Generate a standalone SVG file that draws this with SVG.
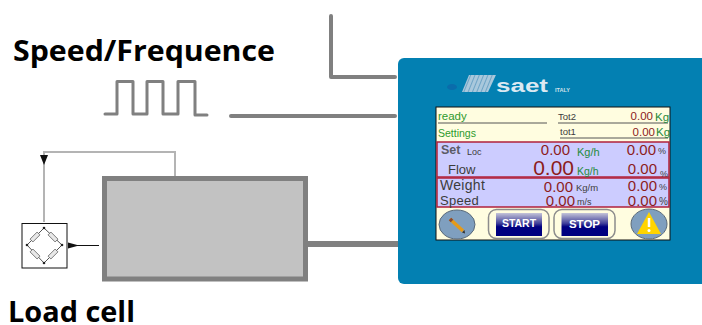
<svg xmlns="http://www.w3.org/2000/svg" width="702" height="325" viewBox="0 0 702 325">
<defs>
<linearGradient id="btn" x1="0" y1="0" x2="0" y2="1"><stop offset="0" stop-color="#c4c4d8"/><stop offset="0.45" stop-color="#40409a"/><stop offset="0.6" stop-color="#000080"/><stop offset="1" stop-color="#000080"/></linearGradient>
<pattern id="hatch" width="4" height="4" patternUnits="userSpaceOnUse" patternTransform="rotate(22)"><rect width="4" height="4" fill="#a9c8dc"/><rect width="1" height="4" fill="#6ea4c6"/></pattern>
</defs>
<style>
text{font-family:"Liberation Sans",Arial,sans-serif}
.head{font-family:"Open Sans","Noto Sans",sans-serif;font-weight:700;font-size:29px;fill:#000}
.wire{fill:none;stroke:#808080;stroke-width:4;stroke-linecap:round;stroke-linejoin:round}
.thin{fill:none;stroke:#b4b4b4;stroke-width:2}
.rule{stroke:#555;stroke-width:1}
.g{fill:#2e9a2e}
.r{fill:#8c1c1c}
.k{fill:#3c3c3c}
.u{fill:#1f8a3c}
.pill{fill:#fffde0;stroke:#8c8c8c;stroke-width:1.500}
.ico{fill:#7f9fbf;stroke:#5a6a7a;stroke-width:1}
.btxt{fill:#fff;font-weight:700;font-size:10.500px;text-anchor:middle}
</style>
<text class="head" x="13" y="61" textLength="262" lengthAdjust="spacingAndGlyphs">Speed/Frequence</text>
<text class="head" x="8" y="322" textLength="127" lengthAdjust="spacingAndGlyphs">Load cell</text>
<g id="connectors">
<path class="wire" d="M331 16V77H395"/>
<path class="wire" d="M231 116H395"/>
<path class="wire" style="stroke-width:3" d="M105 114H117V81.500H133V114H147V81.500H163V114H178V81.500H195V115H207"/>
<path d="M308 244H398" fill="none" stroke="#808080" stroke-width="6"/>
<path class="thin" d="M44 222V152H175V176"/>
<polygon points="40,155 48,155 44,165" fill="#111"/>
<path d="M68 245.500H99" stroke="#111" stroke-width="1"/>
<polygon points="68,242.500 79,245.500 68,248.500" fill="#111"/>
</g>
<g id="load-cell">
<rect x="22" y="223.500" width="45" height="44.500" fill="#fff" stroke="#111" stroke-width="1"/>
<path d="M44 228L62 245L44 263L27 245Z" fill="none" stroke="#555" stroke-width="1"/>
<g fill="#e8e8e8" stroke="#666" stroke-width="0.800">
<rect x="-5" y="-2" width="10" height="4" transform="translate(35 237) rotate(-45)"/>
<rect x="-5" y="-2" width="10" height="4" transform="translate(53 237) rotate(45)"/>
<rect x="-5" y="-2" width="10" height="4" transform="translate(35 254) rotate(45)"/>
<rect x="-5" y="-2" width="10" height="4" transform="translate(53 254) rotate(-45)"/>
</g>
<g fill="#222"><circle cx="44" cy="228" r="1.300"/><circle cx="62" cy="245" r="1.300"/><circle cx="44" cy="263" r="1.300"/><circle cx="27" cy="245" r="1.300"/></g>
</g>
<g id="scale">
<rect x="104.500" y="178.500" width="201" height="100.500" fill="#c2c2c2" stroke="#808080" stroke-width="5"/>
</g>
<g id="controller">
<rect x="398" y="58" width="330" height="226" rx="6" fill="#0380b2"/>
<polygon points="469,75 496,75 488,92 462,92" fill="url(#hatch)"/>
<ellipse cx="452" cy="87" rx="5" ry="3" fill="#0a6cab"/>
<text x="496" y="92" font-size="18" font-weight="700" fill="#dbe9f2" textLength="52" lengthAdjust="spacingAndGlyphs">saet</text>
<text x="555" y="92" font-size="6" font-weight="700" fill="#cfe0ea" textLength="15" lengthAdjust="spacingAndGlyphs">ITALY</text>
<rect x="436" y="107" width="234" height="133" fill="#fffde0" stroke="#111" stroke-width="1"/>
<path class="rule" d="M438 123H547M558 123H668M560 138H668"/>
<text class="g" x="438" y="120" font-size="11.500">ready</text>
<text class="g" x="438" y="137" font-size="10.500">Settings</text>
<text class="k" x="558" y="120" font-size="9.500">Tot2</text>
<text class="k" x="560" y="135" font-size="9.500">tot1</text>
<text class="r" x="653" y="120" font-size="11.500" text-anchor="end">0.00</text>
<text class="u" x="655" y="121" font-size="11.500">Kg</text>
<text class="r" x="655" y="136" font-size="11.500" text-anchor="end">0.00</text>
<text class="u" x="656" y="136" font-size="11.500">Kg</text>
<rect x="437" y="142" width="232" height="35" fill="#ccccff" stroke="#b0203c" stroke-width="1.500"/>
<rect x="437" y="178" width="232" height="29" fill="#ccccff" stroke="#b0203c" stroke-width="1.500"/>
<text class="k" x="441" y="154" font-size="12.500" font-weight="700" fill-opacity="0.800">Set</text>
<text class="k" x="467" y="155" font-size="9">Loc</text>
<text class="k" x="448" y="174" font-size="13">Flow</text>
<text class="r" x="570" y="155" font-size="15" text-anchor="end">0.00</text>
<text class="r" x="574" y="175" font-size="21" text-anchor="end">0.00</text>
<text class="u" x="577" y="156" font-size="11">Kg/h</text>
<text class="u" x="577" y="175" font-size="10.500">Kg/h</text>
<text class="r" x="656" y="155" font-size="15" text-anchor="end">0.00</text>
<text class="r" x="657" y="174" font-size="15" text-anchor="end">0.00</text>
<text class="k" x="658" y="154" font-size="9">%</text>
<text class="k" x="660" y="177" font-size="9">%</text>
<text class="k" x="440" y="190" font-size="14" letter-spacing="0.300">Weight</text>
<text class="k" x="440" y="205" font-size="13" letter-spacing="0.300">Speed</text>
<text class="r" x="573" y="192" font-size="15" text-anchor="end">0.00</text>
<text class="r" x="575" y="206" font-size="15" text-anchor="end">0.00</text>
<text class="k" x="576" y="191" font-size="9.500">Kg/m</text>
<text class="k" x="577" y="205" font-size="9">m/s</text>
<text class="r" x="657" y="191" font-size="15" text-anchor="end">0.00</text>
<text class="r" x="657" y="206" font-size="15" text-anchor="end">0.00</text>
<text class="k" x="659" y="190" font-size="9">%</text>
<text class="k" x="659" y="205" font-size="10">%</text>
</g>
<g id="btn-edit">
<ellipse class="ico" cx="457" cy="224.500" rx="18" ry="14.500"/>
<path d="M450 219L463 231" stroke="#e59a1a" stroke-width="3.500" fill="none"/>
<path d="M450 219L452 221" stroke="#8a4a30" stroke-width="3.500" fill="none"/>
<polygon points="462,232.500 465,233.500 464.500,230" fill="#333"/>
</g>
<g id="btn-start">
<rect class="pill" x="488.500" y="209.500" width="60.500" height="29" rx="8"/>
<rect x="496" y="213" width="46" height="23" fill="url(#btn)"/>
<text class="btxt" x="519" y="227">START</text>
</g>
<g id="btn-stop">
<rect class="pill" x="554" y="209.500" width="61" height="29" rx="8"/>
<rect x="561.500" y="213" width="46.500" height="23" fill="url(#btn)"/>
<text class="btxt" x="584.500" y="228" style="font-size:11.500px">STOP</text>
</g>
<g id="btn-warning">
<ellipse class="ico" cx="649" cy="224" rx="18" ry="15"/>
<polygon points="649,212 661,234 637,234" fill="#ffd400"/>
<path d="M649 218V227" stroke="#fff" stroke-width="2.500"/>
<circle cx="649" cy="230.500" r="1.500" fill="#fff"/>
</g>
</svg>
